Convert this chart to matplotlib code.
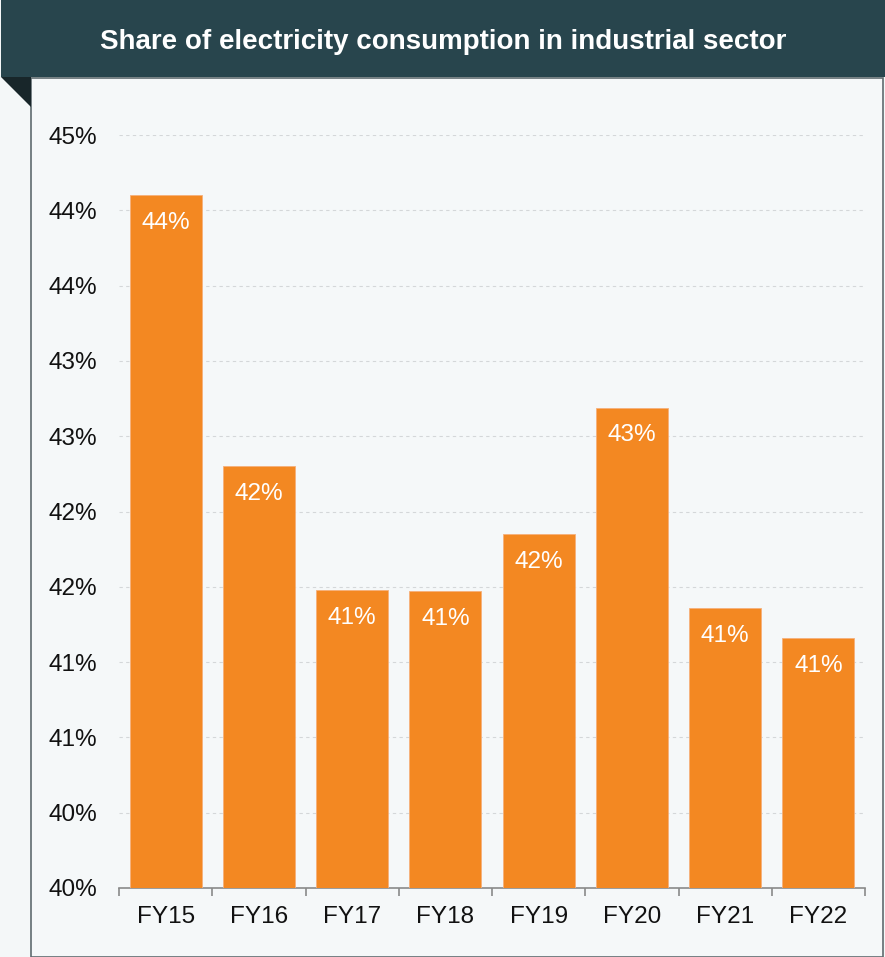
import matplotlib.pyplot as plt
from matplotlib.patches import Rectangle, Polygon

plt.rcParams['font.family'] = ['Liberation Sans', 'DejaVu Sans']

years = ["FY15", "FY16", "FY17", "FY18", "FY19", "FY20", "FY21", "FY22"]
share = [44.6, 42.8, 41.98, 41.97, 42.35, 43.19, 41.86, 41.66]
bar_labels = ["44%", "42%", "41%", "41%", "42%", "43%", "41%", "41%"]
y_ticks = [40, 40.5, 41, 41.5, 42, 42.5, 43, 43.5, 44, 44.5, 45]
y_tick_labels = ["40%", "40%", "41%", "41%", "42%", "42%", "43%", "43%", "44%", "44%", "45%"]

W, H = 885, 957
fig = plt.figure(figsize=(W / 100, H / 100), dpi=100)
fig.patch.set_facecolor('#f4f7f8')

# panel + banner (pixel coords -> figure fraction)
def fx(x): return x / W
def fy(y): return 1 - y / H

fig.patches.append(Rectangle((fx(31), fy(957)), fx(883) - fx(31), fy(78) - fy(957),
                             transform=fig.transFigure, facecolor='#f5f8f9',
                             edgecolor='#5f6b6f', linewidth=1.2, zorder=0))
fig.patches.append(Rectangle((fx(1), fy(77)), 1 - fx(1), fy(0) - fy(77) + 0.01,
                             transform=fig.transFigure, facecolor='#28454d',
                             edgecolor='none', zorder=1))
fig.patches.append(Polygon([(fx(1), fy(77)), (fx(31), fy(77)), (fx(31), fy(107))],
                           closed=True, transform=fig.transFigure,
                           facecolor='#18262a', edgecolor='none', zorder=1))
fig.text(fx(443), fy(42), "Share of electricity consumption in industrial sector",
         ha='center', va='center', color='white', fontsize=20, fontweight='bold')

ax = fig.add_axes([fx(119), fy(888), fx(865) - fx(119), fy(135) - fy(888)])
ax.set_facecolor('none')
ax.set_zorder(3)

x = range(len(years))
bars = ax.bar(x, share, width=0.77, bottom=0, color='#f38822',
              edgecolor='#f6b07a', linewidth=0.6, zorder=3)

for xi, v, lab in zip(x, share, bar_labels):
    ax.annotate(lab, (xi, v), xytext=(0, -20), textcoords='offset points',
                ha='center', va='center', color='white', fontsize=17.5, zorder=4)

ax.set_ylim(40, 45)
ax.set_xlim(-0.5, len(years) - 0.5)
ax.set_yticks(y_ticks)
ax.set_yticklabels(y_tick_labels, fontsize=17.5, color='#111111')
ax.set_xticks(list(x))
ax.set_xticklabels(years, fontsize=17.5, color='#111111')
ax.tick_params(axis='y', length=0, pad=16)
ax.tick_params(axis='x', length=0, pad=13)

# category boundary ticks
ax.set_xticks([i - 0.5 for i in range(len(years) + 1)], minor=True)
ax.tick_params(axis='x', which='minor', length=6, color='#8a8a8a', width=1.2)

ax.grid(axis='y', linestyle=(0, (3, 3)), color='#d4d7d9', linewidth=0.8, zorder=0)
for s in ['top', 'right', 'left']:
    ax.spines[s].set_visible(False)
ax.spines['bottom'].set_color('#8a8a8a')
ax.spines['bottom'].set_linewidth(1.2)

fig.savefig('out.png', dpi=100, facecolor=fig.get_facecolor())
